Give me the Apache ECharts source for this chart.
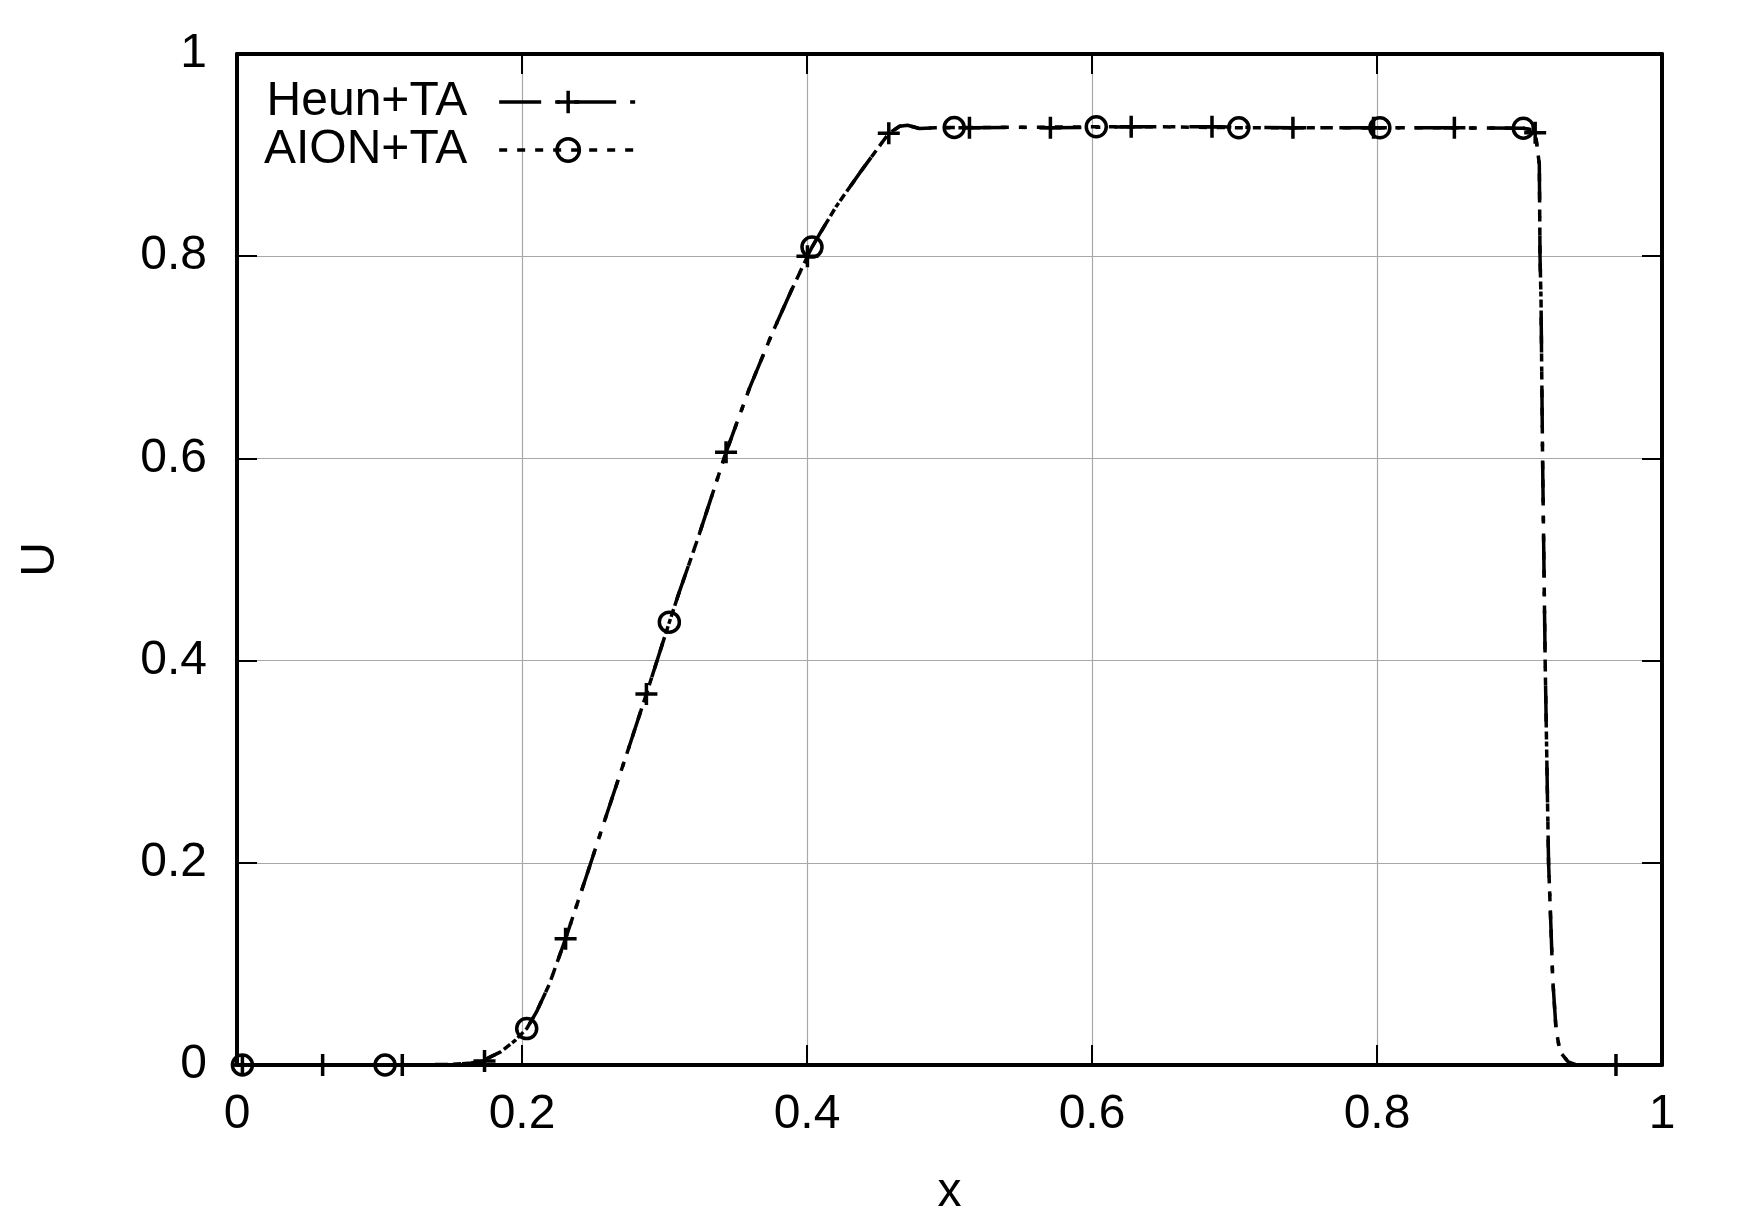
<!DOCTYPE html>
<html>
<head>
<meta charset="utf-8">
<script src="https://cdn.jsdelivr.net/npm/echarts@6/dist/echarts.min.js"></script>
<style>
  html, body { margin: 0; padding: 0; background: #fff; }
  #chart { width: 1750px; height: 1222px; }
</style>
</head>
<body>
<div id="chart"></div>
<script>
// ---- Data ----
const curveX = [0, 0.10, 0.15, 0.165, 0.175, 0.185, 0.195, 0.2033, 0.21, 0.2192, 0.2306, 0.245, 0.259, 0.2765, 0.2873,
  0.3034, 0.3104, 0.3198, 0.3244, 0.3432, 0.3598, 0.3761, 0.389, 0.4035, 0.4089, 0.4206, 0.437, 0.4574, 0.465, 0.4706,
  0.4788, 0.49, 0.55, 0.65, 0.75, 0.85, 0.9027, 0.9085, 0.9115, 0.9139, 0.9141, 0.9144, 0.9151, 0.9162, 0.918, 0.9204,
  0.9221, 0.9233, 0.9256, 0.9284, 0.9342, 0.94, 1.0];
const curveU = [0, 0, 0.0005, 0.002, 0.006, 0.013, 0.024, 0.036, 0.052, 0.080, 0.125, 0.186, 0.246, 0.3205, 0.367,
  0.438, 0.468, 0.506, 0.525, 0.606, 0.670, 0.7255, 0.766, 0.809, 0.822, 0.8495, 0.8824, 0.9215, 0.9285, 0.9295,
  0.9263, 0.927, 0.9275, 0.928, 0.927, 0.927, 0.9266, 0.925, 0.918, 0.891, 0.8565, 0.80, 0.757, 0.6, 0.4, 0.2,
  0.135, 0.0854, 0.036, 0.013, 0.003, 0, 0];

const heunMarkX = [0.0038, 0.0601, 0.116, 0.1737, 0.2306, 0.2873, 0.3432, 0.4003, 0.4574, 0.514, 0.5708, 0.6275,
  0.6842, 0.741, 0.7976, 0.8543, 0.911, 0.9677];
const heunMarkU = [0, 0, 0, 0.004, 0.125, 0.367, 0.606, 0.800, 0.9215, 0.927, 0.927, 0.928, 0.928, 0.927, 0.927,
  0.927, 0.922, 0];

const aionMarkX = [0.0038, 0.1039, 0.2033, 0.3034, 0.4035, 0.5033, 0.603, 0.703, 0.802, 0.9027];
const aionMarkU = [0, 0, 0.036, 0.438, 0.809, 0.9273, 0.928, 0.927, 0.927, 0.9266];

const xTicks = [0, 0.2, 0.4, 0.6, 0.8, 1];
const yTicks = [0, 0.2, 0.4, 0.6, 0.8, 1];

const seriesNames = ['Heun+TA', 'AION+TA'];

// ---- Build series data (curve points + marker points, sorted by x) ----
function buildData(mx, mu) {
  const pts = [];
  curveX.forEach((x, i) => {
    if (!mx.some(m => Math.abs(m - x) < 1e-6)) pts.push({ value: [x, curveU[i]], symbol: 'none' });
  });
  mx.forEach((x, i) => pts.push({ value: [x, mu[i]] }));
  pts.sort((a, b) => a.value[0] - b.value[0]);
  return pts;
}

const FONT = 'Liberation Sans, Arial, Helvetica, sans-serif';
const FS = 48;
const PLUS = 'path://M10,0L10,20M0,10L20,10';

const chart = echarts.init(document.getElementById('chart'), null, { renderer: 'canvas' });

const baseX = {
  type: 'value', min: xTicks[0], max: xTicks[xTicks.length - 1], interval: 0.2,
  axisLine: { show: true, onZero: false, lineStyle: { color: '#000', width: 4 } },
  axisTick: { show: true, inside: true, length: 20, lineStyle: { color: '#000', width: 2 } },
};
const baseY = {
  type: 'value', min: yTicks[0], max: yTicks[yTicks.length - 1], interval: 0.2,
  axisLine: { show: true, onZero: false, lineStyle: { color: '#000', width: 4 } },
  axisTick: { show: true, inside: true, length: 20, lineStyle: { color: '#000', width: 2 } },
};

const option = {
  animation: false,
  backgroundColor: '#fff',
  grid: { left: 237, right: 88, top: 54, bottom: 156, containLabel: false },
  legend: {
    orient: 'vertical', left: 264, top: 78, padding: 0,
    align: 'right', itemWidth: 138, itemHeight: 28, itemGap: 0,
    selectedMode: false,
    data: seriesNames,
    textStyle: { fontSize: FS, fontFamily: FONT, color: '#000', lineHeight: 48, padding: [0, 27, 0, 0] },
    lineStyle: { width: 3.5, color: '#000' },
    itemStyle: { borderWidth: 3.5, borderColor: '#000' }
  },
  xAxis: [
    Object.assign({}, baseX, {
      position: 'bottom',
      name: 'x', nameLocation: 'middle', nameGap: 104,
      nameTextStyle: { fontSize: FS, fontFamily: FONT, color: '#000' },
      axisLabel: { show: true, fontSize: FS, fontFamily: FONT, color: '#000', margin: 26 },
      splitLine: { show: true, lineStyle: { color: '#a8a8a8', width: 1.2 } }
    }),
    Object.assign({}, baseX, {
      position: 'top',
      axisLabel: { show: false }, splitLine: { show: false }
    })
  ],
  yAxis: [
    Object.assign({}, baseY, {
      position: 'left',
      name: 'U', nameLocation: 'middle', nameGap: 172, nameRotate: 90,
      nameTextStyle: { fontSize: FS, fontFamily: FONT, color: '#000' },
      axisLabel: { show: true, fontSize: FS, fontFamily: FONT, color: '#000', margin: 30 },
      splitLine: { show: true, lineStyle: { color: '#a8a8a8', width: 1.2 } }
    }),
    Object.assign({}, baseY, {
      position: 'right',
      axisLabel: { show: false }, splitLine: { show: false }
    })
  ],
  series: [
    {
      name: seriesNames[0], type: 'line', xAxisIndex: 0, yAxisIndex: 0,
      data: buildData(heunMarkX, heunMarkU),
      symbol: PLUS, symbolSize: 22, showSymbol: true, silent: true, z: 3,
      lineStyle: { color: '#000', width: 3.5, type: [42, 14, 5, 14] },
      itemStyle: { color: '#000', borderColor: '#000', borderWidth: 3.5 },
      emphasis: { disabled: true }
    },
    {
      name: seriesNames[1], type: 'line', xAxisIndex: 0, yAxisIndex: 0,
      data: buildData(aionMarkX, aionMarkU),
      symbol: 'circle', symbolSize: 20, showSymbol: true, silent: true, z: 4,
      lineStyle: { color: '#000', width: 3.5, type: [8, 10] },
      itemStyle: { color: 'rgba(0,0,0,0)', borderColor: '#000', borderWidth: 3.5 },
      emphasis: { disabled: true }
    }
  ]
};
chart.setOption(option);
</script>
</body>
</html>
